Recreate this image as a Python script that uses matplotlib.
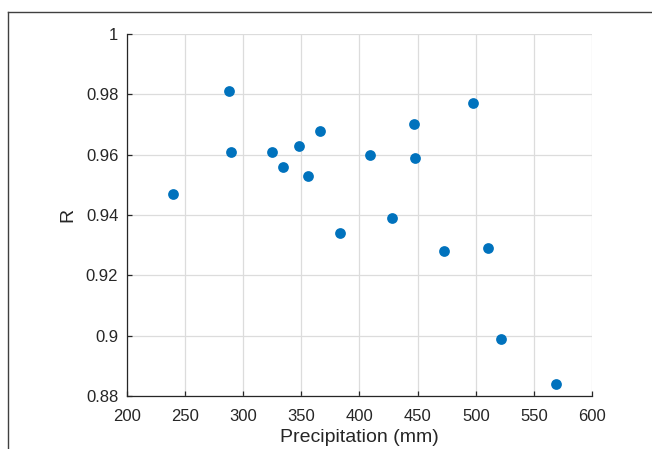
import matplotlib
matplotlib.use('Agg')
import matplotlib.pyplot as plt
from matplotlib.lines import Line2D

precip = [240.0, 287.9, 289.6, 324.8, 334.3, 347.8, 356.0, 366.3, 383.5,
          409.3, 428.2, 447.1, 447.4, 472.9, 497.5, 510.1, 521.8, 569.1]
r_vals = [0.947, 0.981, 0.961, 0.961, 0.956, 0.963, 0.953, 0.968, 0.934,
          0.960, 0.939, 0.970, 0.959, 0.928, 0.977, 0.929, 0.899, 0.884]

x_ticks = [200, 250, 300, 350, 400, 450, 500, 550, 600]
y_ticks = [0.88, 0.9, 0.92, 0.94, 0.96, 0.98, 1]
y_labels = ['0.88', '0.9', '0.92', '0.94', '0.96', '0.98', '1']

plt.rcParams['font.family'] = ['Liberation Sans', 'DejaVu Sans']
axis_col = '#262626'

fig = plt.figure(figsize=(6.52, 4.49), dpi=100)
ax = fig.add_axes([0.1943, 0.1180, 0.714, 0.8063])

ax.scatter(precip, r_vals, s=60, color='#0072BD', zorder=3, linewidths=0)

ax.set_xlim(200, 600)
ax.set_ylim(0.88, 1)
ax.set_xticks(x_ticks)
ax.set_yticks(y_ticks)
ax.set_yticklabels(y_labels)
ax.grid(True, color='#dcdcdc', linewidth=0.9)
ax.set_axisbelow(True)

for side in ['top', 'right']:
    ax.spines[side].set_visible(False)
for side in ['left', 'bottom']:
    ax.spines[side].set_color(axis_col)
    ax.spines[side].set_linewidth(0.9)
ax.tick_params(direction='in', length=3.5, width=0.9, color=axis_col,
               labelcolor=axis_col, labelsize=12)
ax.tick_params(axis='x', pad=9)
ax.tick_params(axis='y', pad=6)

ax.set_xlabel('Precipitation (mm)', fontsize=14, color=axis_col, labelpad=4)
ax.set_ylabel('R', fontsize=14, color=axis_col, labelpad=7)

# outer frame edges of the cropped figure
fig.add_artist(Line2D([0.0123, 1.0], [0.974, 0.974], color='#404040', linewidth=1.0))
fig.add_artist(Line2D([0.0123, 0.0123], [0.0, 0.974], color='#404040', linewidth=1.0))

fig.savefig('out.png', dpi=100)
